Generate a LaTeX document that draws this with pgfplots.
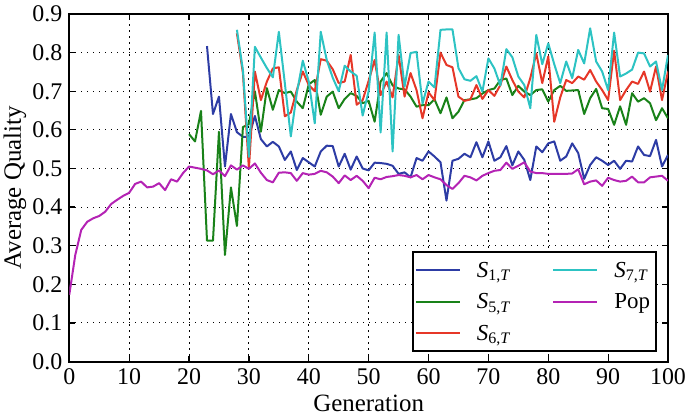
\documentclass[border=0pt]{standalone}
\usepackage{fontspec}
\setmainfont{Liberation Serif}
\usepackage{amsmath}
\usepackage{pgfplots}
\pgfplotsset{compat=1.18}
\usepackage{pgfplotstable}
\usetikzlibrary{calc}
\definecolor{cSa}{RGB}{45,60,165}
\definecolor{cSb}{RGB}{25,130,25}
\definecolor{cSc}{RGB}{230,55,40}
\definecolor{cSd}{RGB}{45,195,195}
\definecolor{cPop}{RGB}{180,35,180}

\pgfplotstableread{
x y
0 0.173
1 0.276
2 0.341
3 0.362
4 0.371
5 0.377
6 0.388
7 0.408
8 0.419
9 0.429
10 0.437
11 0.460
12 0.466
13 0.451
14 0.453
15 0.462
16 0.444
17 0.472
18 0.466
19 0.488
20 0.505
21 0.502
22 0.499
23 0.495
24 0.485
25 0.495
26 0.480
27 0.508
28 0.497
29 0.508
30 0.499
31 0.513
32 0.489
33 0.470
34 0.464
35 0.489
36 0.490
37 0.488
38 0.468
39 0.488
40 0.484
41 0.486
42 0.494
43 0.490
44 0.479
45 0.462
46 0.482
47 0.470
48 0.481
49 0.468
50 0.449
51 0.476
52 0.472
53 0.478
54 0.480
55 0.483
56 0.481
57 0.477
58 0.483
59 0.472
60 0.483
61 0.477
62 0.472
63 0.457
64 0.447
65 0.462
66 0.481
67 0.477
68 0.469
69 0.481
70 0.488
71 0.494
72 0.496
73 0.515
74 0.499
75 0.507
76 0.516
77 0.492
78 0.488
79 0.488
80 0.486
81 0.486
82 0.486
83 0.486
84 0.487
85 0.498
86 0.459
87 0.466
88 0.469
89 0.455
90 0.476
91 0.470
92 0.466
93 0.468
94 0.479
95 0.464
96 0.464
97 0.477
98 0.479
99 0.481
100 0.468
}\tPop

\pgfplotstableread{
x y
23 0.817
24 0.641
25 0.686
26 0.505
27 0.641
28 0.594
29 0.582
30 0.582
31 0.636
32 0.576
33 0.557
34 0.569
35 0.557
36 0.522
37 0.544
38 0.496
39 0.527
40 0.516
41 0.505
42 0.544
43 0.559
44 0.558
45 0.505
46 0.538
47 0.497
48 0.531
49 0.500
50 0.495
51 0.515
52 0.514
53 0.512
54 0.507
55 0.486
56 0.490
57 0.477
58 0.527
59 0.520
60 0.544
61 0.531
62 0.516
63 0.417
64 0.520
65 0.525
66 0.538
67 0.529
68 0.568
69 0.529
70 0.570
71 0.520
72 0.529
73 0.558
74 0.508
75 0.544
76 0.522
77 0.470
78 0.557
79 0.542
80 0.565
81 0.570
82 0.520
83 0.531
84 0.565
85 0.540
86 0.473
87 0.509
88 0.529
89 0.520
90 0.509
91 0.520
92 0.499
93 0.520
94 0.518
95 0.557
96 0.535
97 0.532
98 0.574
99 0.505
100 0.535
}\tSa

\pgfplotstableread{
x y
20 0.589
21 0.570
22 0.649
23 0.313
24 0.313
25 0.595
26 0.276
27 0.451
28 0.351
29 0.607
30 0.615
31 0.700
32 0.595
33 0.708
34 0.652
35 0.703
36 0.695
37 0.699
38 0.673
39 0.656
40 0.718
41 0.729
42 0.639
43 0.686
44 0.699
45 0.656
46 0.680
47 0.695
48 0.688
49 0.669
50 0.675
51 0.621
52 0.725
53 0.747
54 0.715
55 0.707
56 0.705
57 0.686
58 0.660
59 0.664
60 0.664
61 0.679
62 0.643
63 0.684
64 0.630
65 0.647
66 0.677
67 0.679
68 0.682
69 0.694
70 0.703
71 0.707
72 0.729
73 0.733
74 0.690
75 0.714
76 0.699
77 0.690
78 0.703
79 0.705
80 0.673
81 0.703
82 0.714
83 0.701
84 0.702
85 0.703
86 0.641
87 0.682
88 0.706
89 0.656
90 0.654
91 0.613
92 0.661
93 0.613
94 0.695
95 0.673
96 0.682
97 0.669
98 0.625
99 0.656
100 0.630
}\tSb

\pgfplotstableread{
x y
28 0.850
29 0.747
30 0.500
31 0.751
32 0.677
33 0.725
34 0.759
35 0.762
36 0.635
37 0.645
38 0.703
39 0.751
40 0.716
41 0.700
42 0.783
43 0.779
44 0.757
45 0.721
46 0.725
47 0.794
48 0.665
49 0.677
50 0.727
51 0.781
52 0.690
53 0.725
54 0.684
55 0.794
56 0.686
57 0.747
58 0.703
59 0.630
60 0.697
61 0.677
62 0.800
63 0.768
64 0.762
65 0.686
66 0.675
67 0.679
68 0.716
69 0.680
70 0.703
71 0.688
72 0.716
73 0.764
74 0.729
75 0.699
76 0.684
77 0.734
78 0.798
79 0.721
80 0.790
81 0.621
82 0.684
83 0.729
84 0.721
85 0.738
86 0.730
87 0.755
88 0.725
89 0.703
90 0.677
91 0.805
92 0.677
93 0.703
94 0.725
95 0.719
96 0.751
97 0.699
98 0.764
99 0.677
100 0.751
}\tSc

\pgfplotstableread{
x y
28 0.859
29 0.755
30 0.530
31 0.815
32 0.787
33 0.760
34 0.736
35 0.854
36 0.721
37 0.583
38 0.695
39 0.779
40 0.725
41 0.617
42 0.854
43 0.781
44 0.735
45 0.700
46 0.766
47 0.751
48 0.740
49 0.637
50 0.700
51 0.852
52 0.593
53 0.852
54 0.544
55 0.846
56 0.712
57 0.799
58 0.802
59 0.668
60 0.725
61 0.710
62 0.859
63 0.860
64 0.860
65 0.760
66 0.731
67 0.727
68 0.739
69 0.699
70 0.785
71 0.759
72 0.715
73 0.809
74 0.788
75 0.738
76 0.716
77 0.656
78 0.846
79 0.770
80 0.824
81 0.770
82 0.721
83 0.777
84 0.734
85 0.807
86 0.772
87 0.863
88 0.777
89 0.751
90 0.703
91 0.852
92 0.738
93 0.746
94 0.756
95 0.800
96 0.798
97 0.764
98 0.777
99 0.703
100 0.794
}\tSd

\begin{document}
\begin{tikzpicture}
\begin{axis}[
  name=ax,
  scale only axis,
  width=299.4bp, height=173.8bp,
  xmin=0, xmax=100, ymin=0, ymax=0.9,
  xtick={0,10,20,30,40,50,60,70,80,90,100},
  ytick={0,0.1,0.2,0.3,0.4,0.5,0.6,0.7,0.8,0.9},
  yticklabel style={/pgf/number format/fixed,/pgf/number format/fixed zerofill,/pgf/number format/precision=1},
  /pgf/number format/assume math mode=true,
  tick label style={font=\fontsize{12}{14}\selectfont},
  label style={font=\fontsize{12.5}{14}\selectfont},
  xlabel={Generation},
  ylabel={Average Quality},
  xlabel style={at={(axis description cs:0.5,-0.119)}, anchor=center},
  ylabel style={at={(axis description cs:-0.091,0.5)}, anchor=center},
  tick align=inside, tick pos=both,
  major tick length=3bp,
  tick style={black, line width=0.6bp},
  axis line style={black, line width=1bp},
  grid=major,
  major grid style={black, line width=0.5bp, dash pattern=on 0.6bp off 2.4bp},
  every axis plot/.append style={line width=1bp, line join=round},
  legend columns=2,
  legend cell align=left,
  legend image code/.code={\path (0bp,0bp) -- (6bp,0bp); \draw[#1] (6bp,0bp) -- (22bp,0bp);},
  legend style={
    at={(rel axis cs:0.9816,0.028)}, anchor=south east,
    draw=black, line width=1bp, fill=white,
    inner xsep=1bp, inner ysep=1bp,
    font=\fontsize{11.5}{13}\selectfont,
    row sep=0bp,
    nodes={inner sep=2bp, text height=9.5bp, text depth=2.25bp},
    /tikz/every odd column/.append style={column sep=6bp},
    /tikz/every even column/.append style={column sep=19bp},
  },
]
\addplot[cSa, forget plot] table[x=x,y=y] {\tSa};
\addplot[cSb, forget plot] table[x=x,y=y] {\tSb};
\addplot[cSc, forget plot] table[x=x,y=y] {\tSc};
\addplot[cSd, forget plot] table[x=x,y=y] {\tSd};
\addplot[cPop, forget plot] table[x=x,y=y] {\tPop};
\addlegendimage{cSa, line width=1bp}
\addlegendentry{$\textit{S}_{\text{1,}\textit{T}}$}
\addlegendimage{cSd, line width=1bp}
\addlegendentry{$\textit{S}_{\text{7,}\textit{T}}$}
\addlegendimage{cSb, line width=1bp}
\addlegendentry{$\textit{S}_{\text{5,}\textit{T}}$}
\addlegendimage{cPop, line width=1bp}
\addlegendentry{Pop}
\addlegendimage{cSc, line width=1bp}
\addlegendentry{$\textit{S}_{\text{6,}\textit{T}}$}
\end{axis}
\pgfresetboundingbox
\path[use as bounding box] ($(ax.south west)+(-34.65bp,-28.65bp)$) rectangle ($(ax.north east)+(8.5bp,7bp)$);
\end{tikzpicture}
\end{document}
